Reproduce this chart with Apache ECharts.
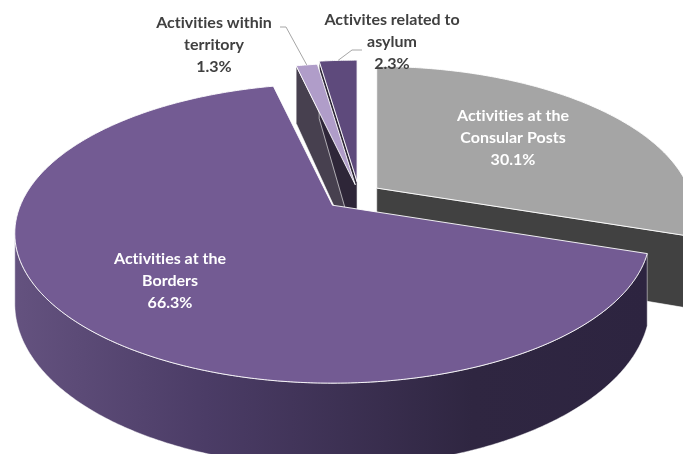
<!DOCTYPE html>
<html>
<head>
<meta charset="utf-8">
<script src="https://cdn.jsdelivr.net/npm/echarts@6/dist/echarts.min.js"></script>
<style>
html,body{margin:0;padding:0;background:#fff;}
#chart{width:683px;height:454px;}
</style>
</head>
<body>
<div id="chart"></div>
<script>
// ---- data ----
const categories = ['Activities at the Consular Posts', 'Activities at the Borders', 'Activities within territory', 'Activites related to asylum'];
const values = [30.1, 66.3, 1.3, 2.3];
const labelLines = [['Activities at the', 'Consular Posts'], ['Activities at the', 'Borders'], ['Activities within', 'territory'], ['Activites related to', 'asylum']];
const percentLabels = ['30.1%', '66.3%', '1.3%', '2.3%'];

// ---- style / geometry config ----
const GEO = { cx: 359, cy: 194, rx: 312, ry: 144.5, k: 0.188, depth: 68 };
const explode = [0.07, 0.115, 0.065, 0.085];
const topColors = ['#a5a5a5', '#735b93', '#b09dc9', '#5e4a7c'];
const faceColors = ['#414141', '#3a3049', '#47404f', '#2e2638'];
const wallStops = [
  [{offset: 0, color: '#4a4a4a'}, {offset: 1, color: '#3a3a3a'}],
  [{offset: 0, color: '#64527f'}, {offset: 0.3, color: '#4b3c66'}, {offset: 0.72, color: '#2f2641'}, {offset: 1, color: '#2d2440'}],
  [{offset: 0, color: '#8a7aa0'}, {offset: 1, color: '#8a7aa0'}],
  [{offset: 0, color: '#3f3355'}, {offset: 1, color: '#3f3355'}]
];
const labelPos = [[513, 137.5], [170, 281], [214, 45], [392, 42]];
const labelColor = ['#ffffff', '#ffffff', '#404040', '#404040'];
const leaderStart = [null, null, [[280, 27], [286, 27]], [[362, 50], [352, 50]]];

// ---- angles (Excel style: start at 12 o'clock, clockwise) ----
const total = values.reduce((a, b) => a + b, 0);
const angles = [];
(function () {
  let cum = 0;
  values.forEach(v => {
    const hi = 90 - 360 * cum / total;
    cum += v;
    const lo = 90 - 360 * cum / total;
    angles.push({ lo, hi, mid: (lo + hi) / 2 });
  });
})();

const rad = d => d * Math.PI / 180;
function proj(i, r, thDeg, z) {
  const m = rad(angles[i].mid);
  const e = explode[i];
  const ox = GEO.rx * e * Math.cos(m);
  const oy = -GEO.ry * e * Math.sin(m);
  const u = r * Math.cos(rad(thDeg));
  const v = r * Math.sin(rad(thDeg));
  const s = 1 / (1 + GEO.k * v);
  return [GEO.cx + ox + GEO.rx * u * s, GEO.cy + oy - GEO.ry * v * s + z * GEO.depth * s];
}
function area(pts) {
  let a = 0;
  for (let j = 0; j < pts.length; j++) {
    const p = pts[j], q = pts[(j + 1) % pts.length];
    a += p[0] * q[1] - q[0] * p[1];
  }
  return a;
}
function arcSteps(lo, hi) {
  const n = Math.max(2, Math.ceil((hi - lo) / 0.5));
  const arr = [];
  for (let j = 0; j <= n; j++) arr.push(lo + (hi - lo) * j / n);
  return arr;
}
// break the "ti" ligature of the font
const noLig = s => s.replace(/t(?=i)/g, 't\u200C');

function renderFaces(params) {
  const i = params.dataIndex;
  const a = angles[i];
  const children = [];
  const f1 = [proj(i, 0, a.lo, 0), proj(i, 1, a.lo, 0), proj(i, 1, a.lo, 1), proj(i, 0, a.lo, 1)];
  const f2 = [proj(i, 1, a.hi, 0), proj(i, 0, a.hi, 0), proj(i, 0, a.hi, 1), proj(i, 1, a.hi, 1)];
  [f1, f2].forEach(f => {
    if (area(f) > 0) {
      children.push({ type: 'polygon', shape: { points: f },
        style: { fill: faceColors[i], stroke: 'rgba(255,255,255,0.75)', lineWidth: 0.8, lineJoin: 'round' } });
    }
  });
  return { type: 'group', children };
}

function renderWalls(params) {
  const i = params.dataIndex;
  const a = angles[i];
  const steps = arcSteps(a.lo, a.hi);
  const runs = [];
  let cur = null;
  for (let j = 0; j < steps.length - 1; j++) {
    const t0 = steps[j], t1 = steps[j + 1];
    const q = [proj(i, 1, t0, 0), proj(i, 1, t1, 0), proj(i, 1, t1, 1), proj(i, 1, t0, 1)];
    if (area(q) > 0) {
      if (!cur) { cur = [t0]; runs.push(cur); }
      cur.push(t1);
    } else cur = null;
  }
  const children = runs.map(run => {
    const top = run.map(t => proj(i, 1, t, 0));
    const bot = run.map(t => proj(i, 1, t, 1)).reverse();
    return { type: 'polygon', shape: { points: top.concat(bot) },
      style: { fill: { type: 'linear', x: 15, y: 0, x2: 650, y2: 0, global: true, colorStops: wallStops[i] },
        stroke: 'rgba(255,255,255,0.6)', lineWidth: 0.8, lineJoin: 'round' } };
  });
  return { type: 'group', children };
}

function renderTops(params) {
  const i = params.dataIndex;
  const a = angles[i];
  const pts = [proj(i, 0, a.lo, 0)].concat(arcSteps(a.lo, a.hi).map(t => proj(i, 1, t, 0)));
  const children = [{ type: 'polygon', shape: { points: pts },
    style: { fill: topColors[i], stroke: 'rgba(255,255,255,0.9)', lineWidth: 1, lineJoin: 'round' } }];
  if (leaderStart[i]) {
    const end = proj(i, 1, a.mid, 0);
    children.push({ type: 'polyline', shape: { points: leaderStart[i].concat([end]) },
      style: { fill: null, stroke: '#a6a6a6', lineWidth: 1 } });
  }
  children.push({ type: 'text', style: {
    text: noLig(labelLines[i].concat([percentLabels[i]]).join('\n')),
    x: labelPos[i][0], y: labelPos[i][1],
    align: 'center', verticalAlign: 'middle',
    fill: labelColor[i], fontFamily: 'Lato', fontWeight: 'bold', fontSize: 16, lineHeight: 22 } });
  return { type: 'group', children };
}

const seriesData = values.map((v, i) => ({ name: categories[i], value: v }));
const chart = echarts.init(document.getElementById('chart'), null, { renderer: 'canvas' });
chart.setOption({
  animation: false,
  backgroundColor: '#ffffff',
  series: [
    { type: 'custom', coordinateSystem: 'none', z: 1, silent: true, data: seriesData, renderItem: renderFaces },
    { type: 'custom', coordinateSystem: 'none', z: 2, silent: true, data: seriesData, renderItem: renderWalls },
    { type: 'custom', coordinateSystem: 'none', z: 3, silent: true, data: seriesData, renderItem: renderTops }
  ]
});
</script>
</body>
</html>
